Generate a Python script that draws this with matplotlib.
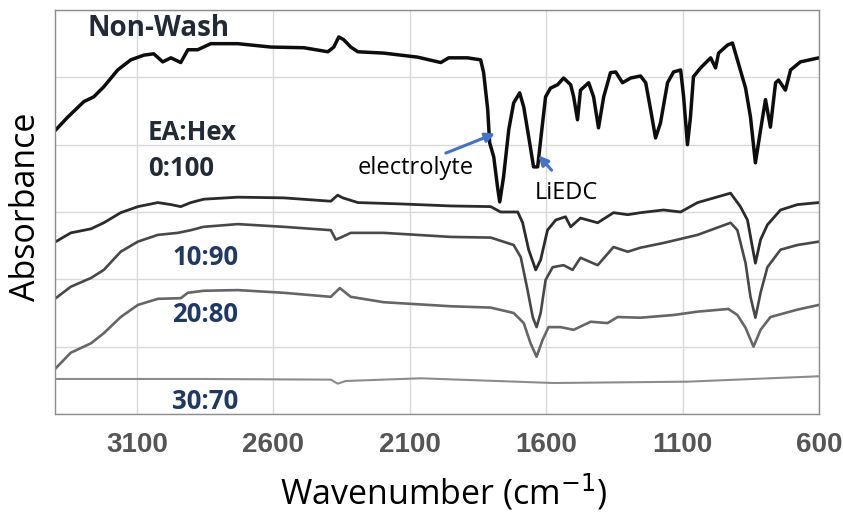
import numpy as np
import matplotlib
matplotlib.use("Agg")
import matplotlib.pyplot as plt

# wavenumber (cm-1) / absorbance (offset, arbitrary units)
wn_nonwash = [3397, 3353, 3294, 3258, 3221, 3170, 3122, 3074, 3038, 3005, 2975, 2939, 2913, 2877,
              2829, 2730, 2609, 2488, 2400, 2378, 2360, 2342, 2316, 2290, 2195, 2071, 1986, 1957,
              1888, 1840, 1829, 1814, 1807, 1792, 1778, 1770, 1756, 1737, 1719, 1697, 1682, 1664,
              1646, 1631, 1620, 1602, 1584, 1558, 1536, 1510, 1499, 1485, 1474, 1444, 1426, 1408,
              1389, 1364, 1345, 1320, 1290, 1254, 1235, 1217, 1199, 1181, 1155, 1133, 1107, 1096,
              1082, 1071, 1060, 1034, 997, 979, 968, 935, 917, 899, 869, 851, 833, 814, 796, 778,
              759, 748, 723, 704, 668, 600]
ab_nonwash = [4.22, 4.41, 4.64, 4.71, 4.86, 5.11, 5.26, 5.33, 5.35, 5.23, 5.29, 5.22, 5.41, 5.41,
              5.50, 5.50, 5.45, 5.44, 5.38, 5.45, 5.60, 5.56, 5.45, 5.38, 5.36, 5.30, 5.22, 5.29,
              5.29, 5.26, 5.07, 4.52, 4.03, 3.82, 3.37, 3.15, 3.52, 4.22, 4.62, 4.77, 4.56, 4.12,
              3.67, 3.67, 4.07, 4.71, 4.84, 4.89, 4.99, 4.89, 4.71, 4.37, 4.81, 4.92, 4.71, 4.25,
              4.71, 5.07, 5.08, 4.92, 4.99, 5.02, 4.92, 4.52, 4.10, 4.32, 4.92, 5.08, 5.11, 4.71,
              4.00, 4.41, 5.01, 5.14, 5.29, 5.14, 5.36, 5.48, 5.51, 5.26, 4.84, 4.41, 3.73, 4.22,
              4.67, 4.26, 4.92, 4.96, 4.81, 5.11, 5.23, 5.29]

wn_0_100 = [3397, 3342, 3268, 3221, 3159, 3096, 3023, 2975, 2939, 2902, 2855, 2730, 2562, 2389,
            2364, 2345, 2290, 2133, 1950, 1803, 1767, 1704, 1686, 1664, 1638, 1620, 1595, 1565,
            1529, 1510, 1474, 1411, 1353, 1301, 1254, 1170, 1107, 1045, 924, 888, 862, 844, 833,
            814, 789, 741, 679, 600]
ab_0_100 = [2.56, 2.69, 2.75, 2.84, 2.99, 3.08, 3.14, 3.11, 3.08, 3.14, 3.19, 3.22, 3.21, 3.16,
            3.25, 3.21, 3.14, 3.12, 3.09, 3.08, 3.00, 3.00, 2.84, 2.44, 2.14, 2.29, 2.73, 2.88,
            2.93, 2.78, 2.91, 2.84, 2.99, 2.96, 2.99, 3.03, 3.00, 3.14, 3.28, 3.08, 2.88, 2.48,
            2.24, 2.59, 2.81, 3.03, 3.11, 3.14]

wn_10_90 = [3397, 3342, 3268, 3221, 3159, 3096, 3023, 2950, 2902, 2855, 2730, 2562, 2389, 2371,
            2353, 2316, 2195, 1950, 1803, 1719, 1693, 1668, 1649, 1635, 1620, 1602, 1576, 1536,
            1503, 1474, 1411, 1353, 1301, 1254, 1170, 1045, 924, 899, 869, 851, 833, 814, 789,
            741, 679, 600]
ab_10_90 = [1.72, 1.89, 2.02, 2.14, 2.41, 2.56, 2.66, 2.69, 2.73, 2.78, 2.82, 2.78, 2.73, 2.59,
            2.62, 2.69, 2.69, 2.63, 2.62, 2.51, 2.33, 1.84, 1.44, 1.29, 1.50, 1.99, 2.18, 2.21,
            2.14, 2.32, 2.21, 2.48, 2.41, 2.47, 2.54, 2.66, 2.84, 2.73, 2.24, 1.74, 1.43, 1.80,
            2.18, 2.44, 2.51, 2.56]

wn_20_80 = [3397, 3342, 3268, 3221, 3159, 3096, 3023, 2939, 2913, 2855, 2730, 2562, 2389, 2356,
            2316, 2195, 1950, 1803, 1719, 1682, 1657, 1635, 1613, 1591, 1547, 1499, 1437, 1375,
            1338, 1254, 1133, 1045, 932, 899, 869, 840, 814, 778, 679, 600]
ab_20_80 = [0.68, 0.91, 1.05, 1.20, 1.44, 1.62, 1.71, 1.72, 1.80, 1.83, 1.84, 1.80, 1.74, 1.87,
            1.74, 1.66, 1.60, 1.58, 1.50, 1.35, 1.05, 0.85, 1.10, 1.29, 1.29, 1.25, 1.37, 1.35,
            1.44, 1.43, 1.47, 1.52, 1.56, 1.47, 1.28, 1.00, 1.25, 1.44, 1.55, 1.62]

wn_30_70 = [3397, 2866, 2389, 2364, 2334, 2060, 1573, 1082, 600]
ab_30_70 = [0.52, 0.52, 0.51, 0.45, 0.49, 0.53, 0.46, 0.48, 0.56]

xticks = [3100, 2600, 2100, 1600, 1100, 600]

fig = plt.figure(figsize=(8.43, 5.14), dpi=100)
ax = fig.add_axes([0.0652, 0.1946, 0.9063, 0.7859])

ax.plot(wn_30_70, ab_30_70, color="#8c8c8c", lw=1.5)
ax.plot(wn_20_80, ab_20_80, color="#666666", lw=1.9)
ax.plot(wn_10_90, ab_10_90, color="#484848", lw=1.9)
ax.plot(wn_0_100, ab_0_100, color="#2b2b2b", lw=2.0)
ax.plot(wn_nonwash, ab_nonwash, color="#0d0d0d", lw=2.5)

ax.set_xlim(3400, 600)
ax.set_ylim(0, 6)
ax.set_xticks(xticks)
ax.set_yticks(range(7))
ax.set_yticklabels([])
ax.grid(True, color="#d9d9d9", lw=1)
ax.set_axisbelow(True)
ax.tick_params(length=0, pad=13)
for lab in ax.get_xticklabels():
    lab.set_fontfamily("Liberation Sans")
    lab.set_fontweight("bold")
    lab.set_fontsize(20)
    lab.set_color("#555555")
for s in ax.spines.values():
    s.set_color("#8c8c8c")
    s.set_linewidth(1)

fig.text(444 / 843, 1 - 492 / 514, "Wavenumber (cm$^{-1}$)", fontsize=24.5, family="Open Sans",
         ha="center", va="center")
fig.text(26 / 843, 1 - 207 / 514, "Absorbance", fontsize=24.5, family="Open Sans",
         ha="center", va="center", rotation=90)

lab_kw = dict(fontweight="bold", family="Open Sans", va="center", ha="left")
ax.text(3282, 5.73, "Non-Wash", color="#222a35", fontsize=20, **lab_kw)
ax.text(3060, 4.18, "EA:Hex", color="#222a35", fontsize=18.5, **lab_kw)
ax.text(3060, 3.65, "0:100", color="#222a35", fontsize=18.5, **lab_kw)
ax.text(2970, 2.32, "10:90", color="#1f3864", fontsize=18.5, **lab_kw)
ax.text(2970, 1.48, "20:80", color="#1f3864", fontsize=18.5, **lab_kw)
ax.text(2970, 0.18, "30:70", color="#1f3864", fontsize=18.5, **lab_kw)

ax.text(2290, 3.65, "electrolyte", fontsize=17, family="Open Sans", va="center", ha="left")
ax.text(1640, 3.28, "LiEDC", fontsize=17, family="Open Sans", va="center", ha="left")
ax.annotate("", xy=(1778, 4.18), xytext=(1977, 3.86),
            arrowprops=dict(arrowstyle="-|>", color="#4472c4", lw=2.2, mutation_scale=14))
ax.annotate("", xy=(1635, 3.87), xytext=(1573, 3.59),
            arrowprops=dict(arrowstyle="-|>", color="#4472c4", lw=2.2, mutation_scale=14))

fig.savefig("out.png", dpi=100)
